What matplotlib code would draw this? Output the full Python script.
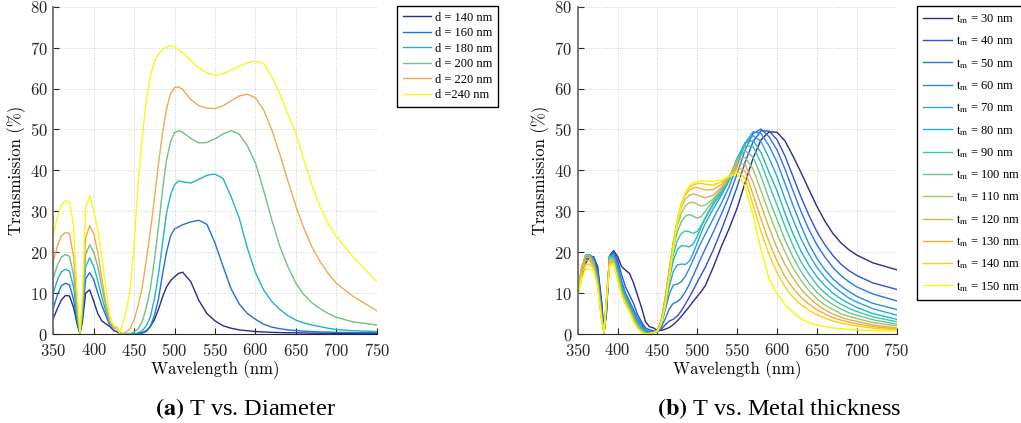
import numpy as np
import matplotlib
matplotlib.use('Agg')
import matplotlib.pyplot as plt

plt.rcParams['font.family'] = 'serif'
plt.rcParams['font.serif'] = ['cmr10', 'DejaVu Serif']
plt.rcParams['axes.formatter.use_mathtext'] = True
plt.rcParams['mathtext.fontset'] = 'stix'

# ---------------- panel (a): transmission vs. diameter ----------------
wl_a = [350, 355, 360, 365, 370, 375, 380, 383, 386, 390, 395, 400, 405, 410, 415, 420, 425, 428, 432, 436, 440,
        445, 450, 455, 460, 465, 470, 475, 480, 485, 490, 495, 500, 505, 510,
        520, 530, 540, 550, 560, 570, 580, 590, 600, 610, 620, 630, 640, 650, 660, 670, 680, 690, 700, 720, 750]

d140 = [3.8, 6.2, 8.3, 9.4, 9.3, 6.5, 2.0, 0.1, 3.0, 10.0, 10.8, 8.0, 5.0, 3.2, 2.5, 1.8, 0.8, 0.6, 0.2, 0.0, 0.0,
        0.0, 0.0, 0.1, 0.3, 0.8, 1.8, 3.5, 6.0, 9.0, 11.5, 13.0, 14.0, 14.8, 15.1,
        12.8, 8.2, 5.0, 3.2, 2.0, 1.4, 1.0, 0.8, 0.6, 0.5, 0.4, 0.35, 0.3, 0.3, 0.25, 0.2, 0.2, 0.2, 0.15, 0.1, 0.1]
d160 = [6.3, 9.5, 11.8, 12.4, 12.0, 8.5, 2.5, 0.1, 4.0, 13.5, 15.0, 13.3, 10.0, 7.0, 4.5, 2.0, 1.3, 1.5, 0.4, 0.0, 0.0,
        0.0, 0.0, 0.1, 0.2, 0.6, 1.8, 4.5, 8.5, 14.5, 20.0, 24.0, 25.7, 26.2, 26.7,
        27.4, 27.8, 26.8, 22.2, 16.5, 11.0, 7.3, 5.0, 3.6, 2.4, 1.7, 1.3, 1.0, 0.85, 0.7, 0.6, 0.5, 0.45, 0.4, 0.35, 0.3]
d180 = [10.0, 13.2, 15.2, 15.8, 15.4, 11.5, 3.5, 0.2, 5.0, 16.5, 18.6, 16.5, 13.0, 9.0, 5.5, 2.5, 1.3, 1.7, 0.4, 0.0, 0.0,
        0.0, 0.0, 0.3, 0.8, 2.0, 4.2, 8.5, 14.5, 22.0, 29.5, 34.0, 36.5, 37.4, 37.2,
        36.9, 37.8, 38.8, 39.1, 38.0, 33.5, 28.3, 21.0, 15.0, 10.8, 8.0, 6.0, 4.5, 3.4, 2.7, 2.2, 1.8, 1.4, 1.1, 0.8, 0.6]
d200 = [13.6, 16.8, 18.8, 19.4, 19.0, 14.5, 4.5, 0.2, 6.0, 19.5, 21.8, 20.0, 16.5, 11.5, 6.8, 3.0, 1.3, 1.7, 0.4, 0.0, 0.1,
        0.1, 0.5, 1.3, 3.0, 6.5, 11.0, 18.0, 26.0, 35.0, 42.5, 47.0, 49.2, 49.7, 49.3,
        47.8, 46.7, 46.8, 47.7, 48.9, 49.7, 48.8, 46.0, 41.8, 35.2, 28.0, 21.5, 16.5, 12.4, 9.6, 7.6, 6.2, 5.0, 4.1, 3.0, 2.2]
d220 = [17.7, 21.5, 24.0, 24.8, 24.5, 19.0, 6.0, 0.2, 7.5, 23.5, 26.5, 24.5, 20.0, 13.5, 7.5, 3.0, 1.3, 1.5, 0.3, 0.1, 0.5,
        1.3, 3.5, 7.0, 11.5, 18.0, 25.0, 33.0, 41.5, 49.0, 55.0, 58.7, 60.3, 60.4, 59.8,
        57.3, 55.8, 55.2, 55.1, 55.8, 57.0, 58.2, 58.6, 57.7, 54.8, 50.0, 44.0, 37.5, 31.2, 25.8, 21.2, 17.7, 14.8, 12.4, 9.3, 5.7]
d240 = [24.0, 28.5, 31.5, 32.6, 32.3, 26.5, 9.0, 0.3, 10.0, 31.0, 33.9, 30.0, 25.5, 19.0, 11.0, 4.5, 2.0, 1.6, 0.3, 2.5, 5.5,
        10.5, 22.0, 37.0, 48.0, 57.0, 63.0, 66.5, 68.5, 69.5, 70.2, 70.4, 70.2, 69.5, 68.8,
        66.8, 65.0, 63.8, 63.3, 63.6, 64.5, 65.5, 66.3, 66.7, 66.2, 63.0, 58.8, 53.8, 49.1, 42.5, 36.3, 31.0, 27.0, 23.8, 19.0, 12.8]

series_a = [d140, d160, d180, d200, d220, d240]
labels_a = ['d = 140 nm', 'd = 160 nm', 'd = 180 nm', 'd = 200 nm', 'd = 220 nm', 'd =240 nm']
colors_a = ['#2c2a8c', '#2070e0', '#20b4c8', '#74c080', '#f0aa50', '#f8f81a']

# ---------------- panel (b): transmission vs. metal thickness ----------------
wl_b = [350, 355, 360, 365, 370, 375, 380, 383, 386, 390, 395, 400, 405, 410, 415, 420, 425, 430, 435, 440, 445,
        450, 455, 460, 465, 470, 475, 480, 485, 490, 495, 500, 505, 510,
        520, 530, 540, 550, 560, 570, 580, 590, 600, 610, 620, 630, 640, 650, 660, 670, 680, 690, 700, 720, 750]

tm30 = [9.5, 14.0, 17.3, 18.8, 18.8, 16.5, 8.0, 0.5, 5.0, 19.0, 20.4, 19.0, 16.5, 15.6, 14.8, 12.5, 9.5, 6.5, 3.0, 1.8, 1.5,
        0.8, 0.9, 1.2, 1.6, 2.3, 3.2, 4.3, 5.5, 6.7, 8.0, 9.2, 10.4, 11.8,
        16.3, 21.3, 25.8, 30.8, 37.0, 43.0, 47.5, 49.4, 49.3, 47.2, 43.5, 39.5, 35.3, 31.2, 27.6, 24.6, 22.3, 20.6, 19.3, 17.4, 15.7]
tm40 = [9.5, 14.5, 18.0, 19.2, 18.8, 16.0, 7.0, 0.4, 5.0, 19.2, 20.2, 18.0, 14.5, 11.5, 9.5, 7.5, 4.8, 3.0, 1.5, 1.0, 0.8,
        0.5, 1.2, 2.3, 3.2, 3.6, 4.4, 5.7, 7.3, 9.0, 10.8, 12.7, 14.5, 16.3,
        20.5, 25.3, 30.5, 36.0, 42.0, 47.0, 49.7, 49.6, 47.5, 43.5, 38.5, 33.5, 29.0, 25.0, 21.8, 19.2, 17.1, 15.5, 14.3, 12.5, 10.9]
tm50 = [9.5, 15.0, 18.5, 19.3, 18.5, 15.0, 6.0, 0.3, 5.5, 19.0, 19.8, 17.0, 13.0, 10.0, 8.0, 6.0, 4.0, 2.5, 1.0, 0.6, 0.5,
        0.5, 1.8, 3.8, 6.2, 7.5, 7.9, 8.8, 10.3, 12.2, 14.3, 16.5, 18.7, 20.8,
        24.9, 29.2, 33.8, 39.2, 45.0, 49.0, 50.1, 48.2, 45.0, 40.3, 35.0, 30.0, 25.5, 21.8, 18.8, 16.3, 14.3, 12.8, 11.5, 9.8, 8.1]
tm60 = [9.8, 15.5, 18.8, 19.4, 18.2, 14.5, 5.5, 0.3, 6.0, 19.0, 19.5, 16.5, 12.5, 9.5, 7.5, 5.5, 3.5, 2.0, 0.7, 0.4, 0.4,
        0.6, 2.5, 6.0, 9.8, 12.0, 12.2, 12.8, 14.1, 16.0, 18.2, 20.4, 22.5, 24.4,
        28.2, 31.9, 36.0, 41.3, 46.6, 49.4, 49.0, 46.0, 42.0, 36.8, 31.5, 26.5, 22.0, 18.5, 15.7, 13.5, 11.8, 10.4, 9.2, 7.5, 6.0]
tm70 = [9.8, 15.8, 19.0, 19.4, 18.0, 14.0, 5.0, 0.3, 6.5, 19.0, 19.3, 16.0, 12.0, 9.2, 7.0, 5.0, 3.0, 1.6, 0.5, 0.3, 0.3,
        0.6, 2.8, 7.0, 11.8, 15.3, 16.9, 17.1, 17.0, 17.8, 19.8, 22.3, 24.8, 27.0,
        30.6, 33.8, 37.5, 42.6, 46.5, 48.5, 47.0, 43.0, 38.5, 33.0, 28.0, 23.3, 19.5, 16.3, 13.8, 11.8, 10.2, 8.8, 7.8, 6.2, 4.6]
tm80 = [10.0, 16.0, 19.2, 19.4, 17.8, 13.5, 4.5, 0.3, 7.0, 19.0, 19.0, 15.5, 11.5, 9.0, 6.8, 4.5, 2.5, 1.2, 0.3, 0.2, 0.3,
        0.7, 3.0, 8.0, 13.5, 18.0, 20.6, 21.6, 21.5, 21.3, 22.0, 23.9, 26.2, 28.3,
        31.6, 34.4, 37.8, 43.0, 46.8, 47.3, 44.3, 39.5, 35.0, 29.5, 24.5, 20.3, 16.8, 14.0, 11.8, 10.0, 8.6, 7.5, 6.5, 5.0, 3.6]
tm90 = [10.0, 16.2, 19.3, 19.3, 17.5, 13.0, 4.2, 0.3, 7.5, 18.8, 18.7, 15.0, 11.0, 8.6, 6.5, 4.2, 2.2, 1.0, 0.2, 0.1, 0.3,
        0.8, 3.2, 8.5, 14.5, 19.5, 22.8, 24.6, 25.2, 25.0, 24.6, 25.1, 26.6, 28.5,
        32.0, 34.8, 38.0, 43.0, 46.0, 45.8, 41.8, 36.5, 31.5, 26.3, 21.6, 17.7, 14.6, 12.0, 10.0, 8.5, 7.3, 6.3, 5.5, 4.2, 3.0]
tm100 = [10.0, 16.3, 19.3, 19.2, 17.3, 12.8, 4.0, 0.3, 8.0, 18.7, 18.4, 14.6, 10.6, 8.3, 6.2, 4.0, 2.0, 0.8, 0.1, 0.1, 0.3,
         0.9, 3.4, 9.0, 15.5, 21.0, 25.0, 27.4, 28.8, 29.2, 28.8, 28.3, 28.7, 30.0,
         32.6, 35.2, 38.2, 42.8, 44.8, 43.2, 38.5, 33.0, 28.0, 23.0, 18.8, 15.3, 12.5, 10.2, 8.5, 7.2, 6.1, 5.2, 4.6, 3.5, 2.4]
tm110 = [10.0, 16.2, 19.2, 19.0, 17.0, 12.5, 3.8, 0.3, 8.3, 18.5, 18.0, 14.3, 10.3, 8.0, 6.0, 3.7, 1.8, 0.7, 0.1, 0.1, 0.3,
         0.9, 3.5, 9.2, 16.0, 22.0, 26.5, 29.5, 31.3, 32.1, 32.2, 31.7, 31.3, 31.5,
         33.0, 35.4, 38.3, 42.3, 43.2, 40.3, 35.0, 29.5, 24.5, 20.0, 16.2, 13.1, 10.6, 8.6, 7.1, 6.0, 5.0, 4.3, 3.8, 2.8, 2.0]
tm120 = [9.8, 16.0, 18.8, 18.6, 16.8, 12.3, 3.7, 0.3, 8.5, 18.0, 17.7, 14.0, 10.0, 7.7, 5.8, 3.5, 1.7, 0.6, 0.1, 0.1, 0.3,
         0.9, 3.5, 9.0, 16.0, 22.5, 27.5, 31.0, 33.0, 33.9, 34.2, 34.0, 33.6, 33.3,
         33.9, 35.8, 38.4, 41.7, 41.5, 37.0, 31.5, 26.0, 21.0, 17.0, 13.7, 11.0, 8.9, 7.2, 5.9, 4.9, 4.1, 3.5, 3.1, 2.2, 1.5]
tm130 = [9.5, 15.5, 18.0, 18.0, 16.5, 12.0, 3.6, 0.3, 8.5, 17.5, 17.5, 13.8, 9.8, 7.5, 5.6, 3.3, 1.6, 0.5, 0.0, 0.1, 0.3,
         0.8, 3.2, 8.5, 15.5, 22.5, 28.0, 31.8, 34.0, 35.2, 35.7, 35.8, 35.5, 35.2,
         35.3, 36.5, 38.6, 40.9, 39.8, 34.0, 28.0, 22.5, 17.8, 14.0, 11.2, 9.0, 7.3, 5.9, 4.9, 4.0, 3.4, 2.9, 2.5, 1.8, 1.2]
tm140 = [9.3, 14.5, 17.0, 17.0, 16.0, 11.8, 3.5, 0.3, 8.3, 17.0, 17.3, 13.5, 9.6, 7.3, 5.5, 3.2, 1.5, 0.5, 0.0, 0.1, 0.3,
         0.7, 3.0, 8.0, 15.0, 22.0, 28.0, 32.0, 34.5, 35.8, 36.5, 36.8, 36.8, 36.6,
         36.4, 37.2, 38.6, 40.1, 38.0, 31.5, 25.0, 19.5, 15.0, 11.5, 9.0, 7.2, 5.8, 4.7, 3.9, 3.2, 2.7, 2.3, 2.0, 1.4, 1.0]
tm150 = [9.0, 13.5, 15.8, 16.0, 15.5, 11.5, 3.5, 0.3, 8.0, 16.5, 17.2, 13.3, 9.5, 7.2, 5.3, 3.0, 1.4, 0.4, 0.0, 0.1, 0.3,
         0.6, 2.5, 7.0, 14.0, 21.0, 27.5, 31.5, 34.5, 36.2, 37.0, 37.3, 37.4, 37.4,
         37.3, 37.6, 38.5, 39.3, 36.0, 29.0, 20.5, 13.5, 9.8, 7.2, 5.3, 3.7, 2.8, 2.2, 1.8, 1.5, 1.3, 1.1, 1.0, 0.8, 0.7]

series_b = [tm30, tm40, tm50, tm60, tm70, tm80, tm90, tm100, tm110, tm120, tm130, tm140, tm150]
thick = [30, 40, 50, 60, 70, 80, 90, 100, 110, 120, 130, 140, 150]
colors_b = ['#2c2a8c', '#3450d0', '#2a74e6', '#2a8ce0', '#28a6dc', '#22b6c8', '#3cc6ac', '#6cc48c',
            '#a0c46a', '#d4b452', '#f8ae32', '#f8d010', '#f8f800']

fig = plt.figure(figsize=(10.21, 4.23), dpi=100)
ax1 = fig.add_axes([0.0522, 0.2104, 0.3168, 0.7738])
ax2 = fig.add_axes([0.5658, 0.2104, 0.3124, 0.7738])

for ys, lab, c in zip(series_a, labels_a, colors_a):
    ax1.plot(wl_a, ys, color=c, lw=1.0, label=lab)
for ys, t, c in zip(series_b, thick, colors_b):
    ax2.plot(wl_b, ys, color=c, lw=1.0, label=r'$\mathrm{t_m}$' + ' = %d nm' % t)

for ax in (ax1, ax2):
    ax.set_xlim(350, 750)
    ax.set_ylim(0, 80)
    ax.set_xticks(np.arange(350, 751, 50))
    ax.set_yticks(np.arange(0, 81, 10))
    ax.grid(True, linestyle=':', color='#cfcfcf', linewidth=0.7)
    ax.set_axisbelow(True)
    ax.spines['top'].set_visible(False)
    ax.spines['right'].set_visible(False)
    ax.spines['left'].set_color('#6e6e6e')
    ax.spines['left'].set_linewidth(1.3)
    ax.spines['bottom'].set_color('#262626')
    ax.spines['bottom'].set_linewidth(0.8)
    ax.tick_params(direction='in', length=4, width=0.8, labelsize=12, colors='#262626')
    ax.tick_params(axis='x', pad=6)
    ax.tick_params(axis='y', pad=4)
    ax.set_xlabel('Wavelength (nm)', fontsize=12, labelpad=1)
    ax.set_ylabel('Transmission (%)', fontsize=12, labelpad=3)

leg_font = {'family': 'Liberation Serif', 'size': 9}
leg1 = fig.legend(handles=ax1.get_lines(), loc='upper left', bbox_to_anchor=(397 / 1021, 1 - 6 / 423),
                  prop=leg_font, frameon=True, fancybox=False, edgecolor='black', framealpha=1,
                  handlelength=2.3, handletextpad=0.3, labelspacing=0.28, borderpad=0.45, borderaxespad=0)
leg1.get_frame().set_linewidth(1.0)
leg2 = fig.legend(handles=ax2.get_lines(), loc='upper left', bbox_to_anchor=(917 / 1021, 1 - 6 / 423),
                  prop=leg_font, frameon=True, fancybox=False, edgecolor='black', framealpha=1,
                  handlelength=2.3, handletextpad=0.3, labelspacing=0.68, borderpad=0.5, borderaxespad=0)
leg2.get_frame().set_linewidth(1.0)

cap_font = 'Liberation Serif'
fig.text(0.2405, 0.035, r'$\mathbf{(a)}$ T vs. Diameter', ha='center', va='center', fontsize=17.5, family=cap_font)
fig.text(0.763, 0.035, r'$\mathbf{(b)}$ T vs. Metal thickness', ha='center', va='center', fontsize=17.5, family=cap_font)

fig.savefig('out.png', dpi=100)
